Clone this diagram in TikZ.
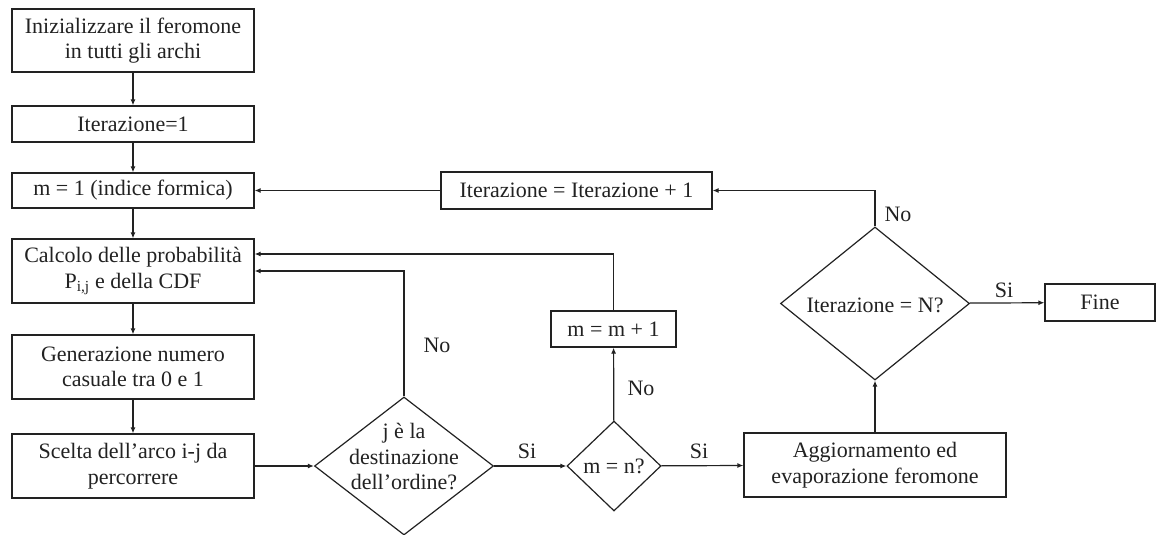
\documentclass[tikz,border=0pt]{standalone}
\usepackage{fontspec}
\setmainfont{Liberation Serif}
\usetikzlibrary{shapes.geometric,arrows.meta,calc}
\definecolor{ink}{HTML}{222222}
\begin{document}
\begin{tikzpicture}[x=1pt,y=-1pt,
  every node/.style={font=\fontsize{22}{25.5}\selectfont, text=ink},
  box/.style={draw=ink, line width=1.2pt, inner sep=0pt, align=center},
  dec/.style={draw=ink, diamond, line width=1.2pt, inner sep=0pt, align=center},
  arr/.style={draw=ink, line width=1.2pt, -{Latex[length=6pt,width=5pt]}},
  lab/.style={inner sep=0pt, align=center}]
\fill[white] (0,0) rectangle (1156,535);
\useasboundingbox (0,0) rectangle (1156,535);

% left column
\node[box, minimum width=242pt, minimum height=63pt] (A) at (133,40.5) {Inizializzare il feromone\\in tutti gli archi};
\node[box, minimum width=242pt, minimum height=36pt] (B) at (133,124) {Iterazione=1};
\node[box, minimum width=242pt, minimum height=35pt] (C) at (133,190.5) {m = 1 (indice formica)};
\node[box, minimum width=242pt, minimum height=64pt] (D) at (133,271) {Calcolo delle probabilità\\P\textsubscript{i,j} e della CDF};
\node[box, minimum width=242pt, minimum height=64pt] (E) at (133,367) {Generazione numero\\casuale tra 0 e 1};
\node[box, minimum width=242pt, minimum height=64pt] (F) at (133,466) {Scelta dell’arco i-j da\\percorrere};

% decisions and others
\node[dec, minimum width=179pt, minimum height=138pt] (d1) at (404,466) {};
\node[lab] (d1t) at (404,457) {j è la\\destinazione\\dell’ordine?};
\node[dec, minimum width=94pt, minimum height=90pt] (d2) at (614,466) {};
\node[lab] (d2t) at (614,466) {m = n?};
\node[box, minimum width=125pt, minimum height=36pt] (mm) at (613.5,329) {m = m + 1};
\node[box, minimum width=262pt, minimum height=64pt] (G) at (875,465) {Aggiornamento ed\\evaporazione feromone};
\node[dec, minimum width=189pt, minimum height=153pt] (d3) at (875,303.5) {};
\node[lab] (d3t) at (875,305) {Iterazione = N?};
\node[box, minimum width=110pt, minimum height=37pt] (fine) at (1100,302.5) {Fine};
\node[box, minimum width=271pt, minimum height=37pt] (it) at (576.5,190.5) {Iterazione = Iterazione + 1};

% connectors
\draw[arr] (A) -- (B);
\draw[arr] (B) -- (C);
\draw[arr] (C) -- (D);
\draw[arr] (D) -- (E);
\draw[arr] (E) -- (F);
\draw[arr] (F) -- (d1);
\draw[arr] (d1) -- (d2);
\draw[arr] (d2) -- (G);
\draw[arr] (d2) -- (mm);
\draw[arr] (mm.north) |- ($(D.east)+(0,-17)$);
\draw[arr] (d1.north) |- (D.east);
\draw[arr] (G) -- (d3);
\draw[arr] (d3) -- (fine);
\draw[arr] (d3.north) |- (it.east);
\draw[arr] (it) -- (C);

% labels
\node[lab] (l1) at (437,345) {No};
\node[lab] (l2) at (527,451) {Si};
\node[lab] (l3) at (699,451) {Si};
\node[lab] (l4) at (641,388) {No};
\node[lab] (l5) at (1004,290) {Si};
\node[lab] (l6) at (898,214) {No};
\end{tikzpicture}
\end{document}
